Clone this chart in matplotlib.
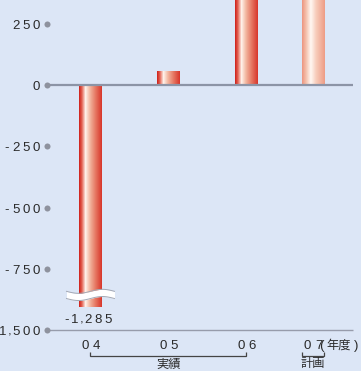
import numpy as np
import matplotlib
matplotlib.use("Agg")
import matplotlib.pyplot as plt
from matplotlib import transforms
from matplotlib.colors import LinearSegmentedColormap

# ---- data -------------------------------------------------------------
years = ["04", "05", "06", "07"]
values = [-1285, 61, 520, 480]
plan_flags = [False, False, False, True]
ytick_values = [250, 0, -250, -500, -750, -1500]
ytick_labels = ["250", "0", "-250", "-500", "-750", "-1,500"]
group_names = ["実績", "計画"]
group_spans = [(0, 2), (3, 3)]
unit_label = "年度"

# ---- style ------------------------------------------------------------
BG = "#dce6f6"
TEXT = "#2a2a2a"
GRID = "#8c94a6"
DOT = "#8e929e"
x_pos = [0.0, 1.0, 2.0, 2.853]
bar_w = 0.295

# broken value axis: identity above the break, compressed below it
BREAK_HI, BREAK_LO, LOWER_K, GAP_K = -850.0, -1170.0, 0.44, 0.01
_vs = np.array([-1e5, BREAK_LO, BREAK_HI, 1e5])
_ds = np.array([
    BREAK_HI + (BREAK_LO - BREAK_HI) * GAP_K + (-1e5 - BREAK_LO) * LOWER_K,
    BREAK_HI + (BREAK_LO - BREAK_HI) * GAP_K,
    BREAK_HI,
    1e5,
])


def fwd(v):
    return np.interp(v, _vs, _ds)


def inv(d):
    return np.interp(d, _ds, _vs)


fig = plt.figure(figsize=(3.61, 3.71), dpi=100, facecolor=BG)
ax = fig.add_axes([0, 0, 1, 1], facecolor=BG)
ax.set_yscale("function", functions=(fwd, inv))
ax.set_xlim(-1.160, 3.468)
ax.set_ylim(-1882, 347)
ax.set_axis_off()

# ---- gradients for the bars --------------------------------------------
red_cmap = LinearSegmentedColormap.from_list("red", [
    (0.00, (0.82, 0.16, 0.13)),
    (0.10, (0.89, 0.38, 0.32)),
    (0.26, (1.00, 0.95, 0.92)),
    (0.45, (0.95, 0.72, 0.63)),
    (0.72, (0.90, 0.45, 0.37)),
    (1.00, (0.84, 0.19, 0.15)),
])
plan_cmap = LinearSegmentedColormap.from_list("plan", [
    (0.00, (0.93, 0.60, 0.52)),
    (0.15, (0.96, 0.75, 0.67)),
    (0.36, (1.00, 0.97, 0.95)),
    (0.60, (0.97, 0.80, 0.73)),
    (1.00, (0.93, 0.60, 0.51)),
])
grad = np.linspace(0, 1, 128)[None, :]

bars = ax.bar(x_pos, values, width=bar_w, color="none", linewidth=0, zorder=2)
ylo, yhi = ax.get_ylim()
for rect, plan in zip(bars, plan_flags):
    x0 = rect.get_x()
    im = ax.imshow(grad, cmap=plan_cmap if plan else red_cmap, aspect="auto",
                   extent=(x0, x0 + rect.get_width(), ylo, yhi),
                   interpolation="bilinear", zorder=2)
    im.set_clip_path(rect)
ax.set_xlim(-1.160, 3.468)
ax.set_ylim(ylo, yhi)

# ---- axis lines and tick dots -----------------------------------------
x_left, x_right = -0.558, 3.365
ax.plot([x_left, x_right], [0, 0], color=GRID, lw=1.6, zorder=3,
        solid_capstyle="butt")
ax.plot([x_left, x_right], [-1500, -1500], color="#979cab", lw=1.0,
        zorder=3, solid_capstyle="butt")
ax.scatter([x_left] * len(ytick_values), ytick_values, s=19, color=DOT,
           zorder=4, clip_on=False, linewidths=0)

# ---- letter-spaced text helper ----------------------------------------
ADV = {"-": 0.333, ",": 0.278, "(": 0.333, ")": 0.333}
FS_PT = 9.5
FS_PX = FS_PT * 100 / 72


def spaced(x, y, s, base, track, align="center", dy=0.0, color=TEXT):
    advs = [ADV.get(c, 0.556) * FS_PX for c in s]
    gaps = []
    for i in range(len(s) - 1):
        tight = s[i] == "," or s[i + 1] == ","
        gaps.append(track * (0.3 if tight else 1.0))
    total = sum(advs) + sum(gaps)
    start = {"center": -total / 2, "right": -total, "left": 0}[align]
    off = start
    for i, (c, a) in enumerate(zip(s, advs)):
        tr = transforms.offset_copy(base, fig=fig, x=off, y=dy, units="dots")
        ax.text(x, y, c, transform=tr, ha="left", va="baseline",
                fontsize=FS_PT, family=["Liberation Sans", "DejaVu Sans"],
                color=color, clip_on=False)
        off += a + (gaps[i] if i < len(gaps) else 0)


# y tick labels (right edge 7 px left of the dots)
x_lab = x_left - 7 / 78
for v, lab in zip(ytick_values, ytick_labels):
    spaced(x_lab, v, lab, ax.transData, 3.0, align="right", dy=-5)

# value label under the negative bar
for xp, v in zip(x_pos, values):
    if v < BREAK_HI:
        spaced(xp - 2.5 / 78, v, f"{v:,}", ax.transData, 3.0, dy=-16)

# break marks across bars that cross the gap
ident = transforms.IdentityTransform()
for xp, v in zip(x_pos, values):
    if v < BREAK_LO:
        cx, cy = ax.transData.transform((xp, BREAK_HI))
        cy -= 1.5
        xs = np.linspace(-24, 24, 80)
        wave = 2.0 * np.sin(2 * np.pi * xs / 48)
        top = cy + 3.6 + wave
        bot = cy - 3.6 + wave
        ax.fill_between(cx + xs, bot, top, color="white", transform=ident,
                        zorder=5, linewidth=0)
        ax.plot(cx + xs, top, color="#a3a8b4", lw=0.7, transform=ident, zorder=6)
        ax.plot(cx + xs, bot, color="#a3a8b4", lw=0.7, transform=ident, zorder=6)

# category labels
xa = ax.get_xaxis_transform()
y_cat = 1 - 349 / 371
for xp, yr in zip(x_pos, years):
    spaced(xp, y_cat, yr, xa, 4.0)

# unit label after the last category
ax.text(x_pos[-1] + 6 / 78, y_cat, "(", transform=xa, ha="left", va="baseline",
        fontsize=FS_PT, family=["Liberation Sans"], color=TEXT)
ax.text(x_pos[-1] + 25.5 / 78, y_cat, unit_label, transform=xa, ha="center",
        va="baseline", fontsize=8.8, family=["Noto Sans CJK JP"], color=TEXT)
ax.text(x_pos[-1] + 41 / 78, y_cat, ")", transform=xa, ha="left", va="baseline",
        fontsize=FS_PT, family=["Liberation Sans"], color=TEXT)

# group brackets
y_br = 1 - 356 / 371
tick_h = 4 / 371
for name, (i0, i1) in zip(group_names, group_spans):
    a = x_pos[i0] - (11 / 78 if i0 == i1 else 0)
    b = x_pos[i1] + (11 / 78 if i0 == i1 else 0)
    ax.plot([a, a, b, b], [y_br + tick_h, y_br, y_br, y_br + tick_h],
            color="#444444", lw=0.9, transform=xa, clip_on=False,
            solid_joinstyle="miter", solid_capstyle="butt")
    ax.text((a + b) / 2, 1 - 364 / 371, name, transform=xa, ha="center",
            va="center", fontsize=8.8, family=["Noto Sans CJK JP"], color=TEXT)

fig.savefig("out.png", dpi=100, facecolor=BG)
